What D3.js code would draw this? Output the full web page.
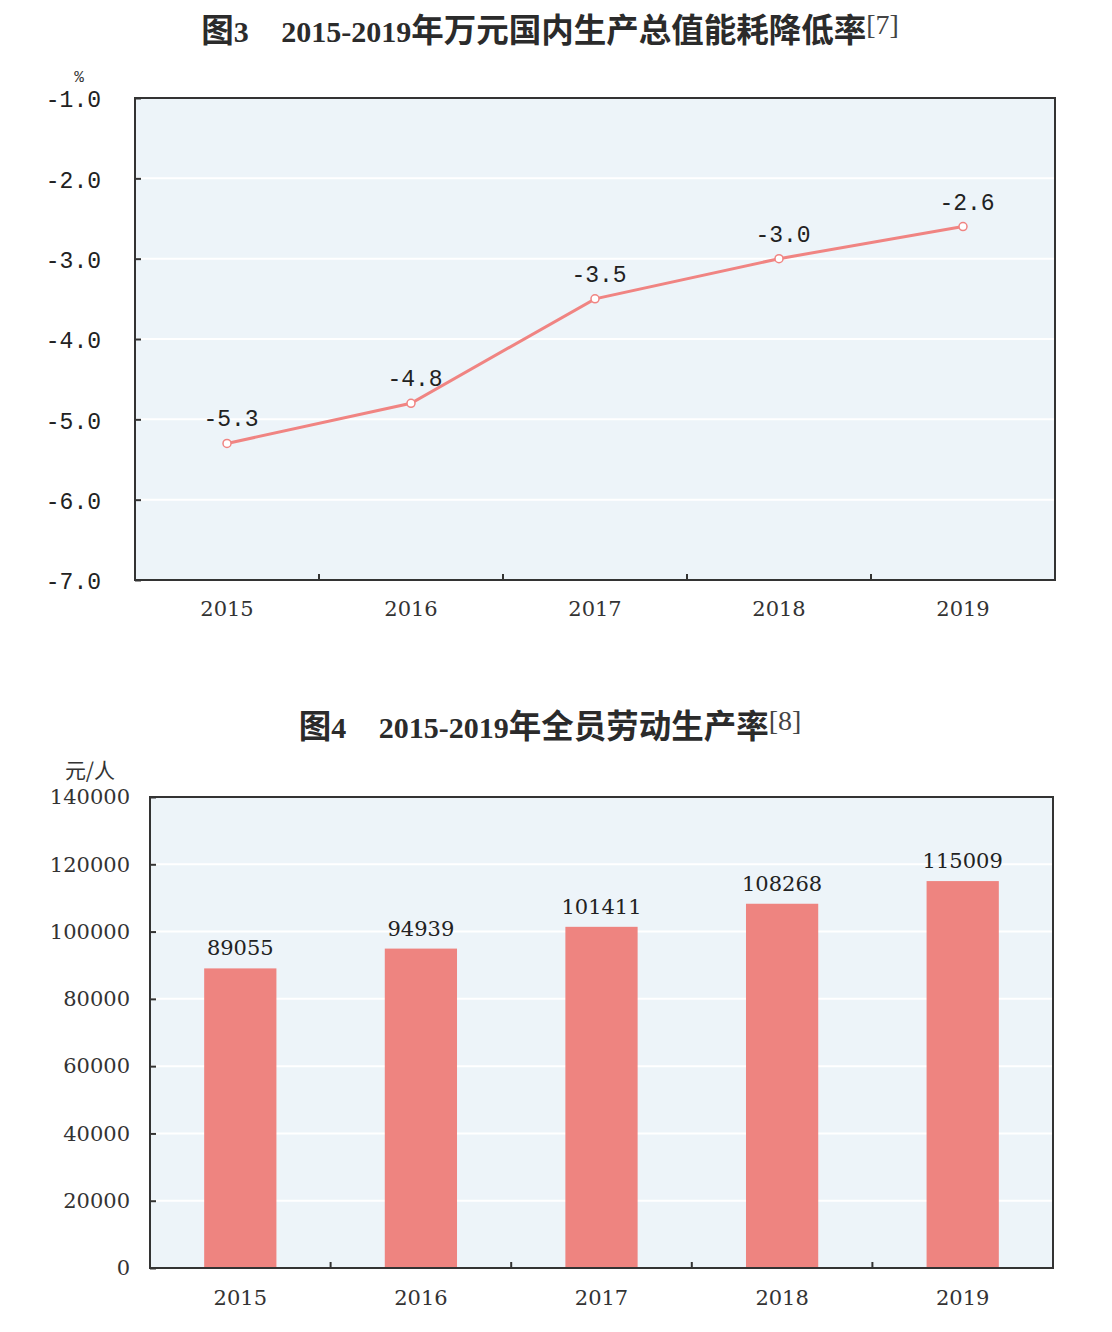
<!DOCTYPE html>
<html><head><meta charset="utf-8">
<script src="https://cdn.jsdelivr.net/npm/d3@7"></script>
<style>
html,body{margin:0;padding:0;background:#fff;}
svg{display:block;}
</style></head>
<body>
<svg id="c" width="1112" height="1332"></svg>
<script>
const years = ["2015","2016","2017","2018","2019"];
const energyDrop = [-5.3, -4.8, -3.5, -3.0, -2.6];
const energyTicks = [-7, -6, -5, -4, -3, -2, -1];
const productivity = [89055, 94939, 101411, 108268, 115009];
const productivityTicks = [0, 20000, 40000, 60000, 80000, 100000, 120000, 140000];
const title1 = ["图3", "2015-2019", "年万元国内生产总值能耗降低率", "[7]"];
const title2 = ["图4", "2015-2019", "年全员劳动生产率", "[8]"];
const unit1 = "%";
const unit2 = "元/人";

const loc = d3.formatLocale({decimal:".", thousands:",", grouping:[3], currency:["",""], minus:"-"});
const f1 = loc.format(".1f");

const svg = d3.select("#c");
const BG = "#EDF4F9", FRAME = "#333", TXT = "#333";
const LINE = "#F08482", BAR = "#EE8480";
const CJK = "'Noto Sans CJK SC', sans-serif";
const SERIF = "'Liberation Serif', 'Times New Roman', serif";
const MONO = "'Liberation Mono', monospace";
const DSERIF = "'DejaVu Serif', serif";

function title(y, parts){
  const t = svg.append("text").attr("x", 550).attr("y", y).attr("text-anchor","middle")
    .attr("fill","#2b2b2b").attr("font-size",30);
  t.append("tspan").attr("font-family",CJK).attr("font-weight",700).attr("font-size",32.5).text(parts[0].slice(0,1));
  t.append("tspan").attr("font-family",SERIF).attr("font-weight",700).text(parts[0].slice(1));
  t.append("tspan").attr("font-family",CJK).attr("font-size",32.5).text("\u3000");
  t.append("tspan").attr("font-family",SERIF).attr("font-weight",700).text(parts[1]);
  t.append("tspan").attr("font-family",CJK).attr("font-weight",700).attr("font-size",32.5).text(parts[2]);
  t.append("tspan").attr("font-family",SERIF).attr("font-weight",400).attr("font-size",28)
    .attr("dy",-8).attr("fill","#444").text(parts[3]);
}

// ---------- Chart 1 ----------
{
  const L = 135, R = 1055, T = 98, B = 580;
  title(42, title1);
  const x = d3.scaleBand().domain(years).range([L, R]).padding(0);
  const y = d3.scaleLinear().domain([-7, -1]).range([B, T]);
  const g = svg.append("g");
  g.append("rect").attr("x",L).attr("y",T).attr("width",R-L).attr("height",B-T).attr("fill",BG);
  g.selectAll("line.grid").data(energyTicks.slice(1,-1)).join("line")
    .attr("x1",L).attr("x2",R).attr("y1",d=>y(d)).attr("y2",d=>y(d))
    .attr("stroke","#fff").attr("stroke-width",2);
  const ya = g.append("g").attr("transform",`translate(${L},0)`)
    .call(d3.axisLeft(y).tickValues(energyTicks).tickFormat(f1).tickSize(-6).tickPadding(34));
  ya.select(".domain").remove();
  ya.selectAll(".tick line").attr("stroke",FRAME).attr("stroke-width",2);
  ya.selectAll(".tick text").attr("font-family",MONO).attr("font-size",23).attr("fill","#222")
    .attr("dy","0.38em");
  const xa = g.append("g").attr("transform",`translate(0,${B})`)
    .call(d3.axisBottom(x).tickSize(0).tickPadding(21));
  xa.select(".domain").remove();
  xa.selectAll(".tick text").attr("font-family",DSERIF).attr("font-size",21).attr("fill",TXT);
  g.selectAll("line.xt").data(years.slice(0,-1)).join("line")
    .attr("x1",d=>x(d)+x.step()).attr("x2",d=>x(d)+x.step()).attr("y1",B).attr("y2",B-6)
    .attr("stroke",FRAME).attr("stroke-width",2);
  g.append("rect").attr("x",L).attr("y",T).attr("width",R-L).attr("height",B-T)
    .attr("fill","none").attr("stroke",FRAME).attr("stroke-width",2);
  svg.append("text").attr("x",79).attr("y",82).attr("text-anchor","middle")
    .attr("font-family",MONO).attr("font-size",16).attr("fill",TXT).text(unit1);
  const cx = d => x(d) + x.bandwidth()/2;
  const line = d3.line().x((d,i)=>cx(years[i])).y(d=>y(d));
  g.append("path").datum(energyDrop).attr("d",line).attr("fill","none")
    .attr("stroke",LINE).attr("stroke-width",3);
  g.selectAll("circle").data(energyDrop).join("circle")
    .attr("cx",(d,i)=>cx(years[i])).attr("cy",d=>y(d)).attr("r",4)
    .attr("fill","#fff").attr("stroke",LINE).attr("stroke-width",1.5);
  g.selectAll("text.lbl").data(energyDrop).join("text").attr("class","lbl")
    .attr("x",(d,i)=>cx(years[i])+4).attr("y",d=>y(d)-17).attr("text-anchor","middle")
    .attr("font-family",MONO).attr("font-size",23).attr("fill","#222")
    .text(d=>f1(d));
}

// ---------- Chart 2 ----------
{
  const L = 150, R = 1053, T = 797, B = 1268;
  title(738, title2);
  const x = d3.scaleBand().domain(years).range([L, R]).padding(0);
  const y = d3.scaleLinear().domain([0, 140000]).range([B, T]);
  const g = svg.append("g");
  g.append("rect").attr("x",L).attr("y",T).attr("width",R-L).attr("height",B-T).attr("fill",BG);
  g.selectAll("line.grid").data(productivityTicks.slice(1,-1)).join("line")
    .attr("x1",L).attr("x2",R).attr("y1",d=>y(d)).attr("y2",d=>y(d))
    .attr("stroke","#fff").attr("stroke-width",2);
  const ya = g.append("g").attr("transform",`translate(${L},0)`)
    .call(d3.axisLeft(y).tickValues(productivityTicks).tickFormat(d3.format("d")).tickSize(-6).tickPadding(20));
  ya.select(".domain").remove();
  ya.selectAll(".tick line").attr("stroke",FRAME).attr("stroke-width",2);
  ya.selectAll(".tick text").attr("font-family",DSERIF).attr("font-size",21).attr("fill",TXT);
  const xa = g.append("g").attr("transform",`translate(0,${B})`)
    .call(d3.axisBottom(x).tickSize(0).tickPadding(22));
  xa.select(".domain").remove();
  xa.selectAll(".tick text").attr("font-family",DSERIF).attr("font-size",21).attr("fill",TXT);
  const bw = x.step()*0.4;
  g.selectAll("rect.bar").data(productivity).join("rect").attr("class","bar")
    .attr("x",(d,i)=>x(years[i])+x.step()/2-bw/2).attr("width",bw)
    .attr("y",d=>y(d)).attr("height",d=>B-y(d)).attr("fill",BAR);
  g.selectAll("text.lbl").data(productivity).join("text").attr("class","lbl")
    .attr("x",(d,i)=>x(years[i])+x.step()/2).attr("y",d=>y(d)-13).attr("text-anchor","middle")
    .attr("font-family",DSERIF).attr("font-size",21).attr("fill","#222").text(d=>d);
  g.selectAll("line.xt").data(years.slice(0,-1)).join("line")
    .attr("x1",d=>x(d)+x.step()).attr("x2",d=>x(d)+x.step()).attr("y1",B).attr("y2",B-6)
    .attr("stroke",FRAME).attr("stroke-width",2);
  g.append("rect").attr("x",L).attr("y",T).attr("width",R-L).attr("height",B-T)
    .attr("fill","none").attr("stroke",FRAME).attr("stroke-width",2);
  svg.append("text").attr("x",90).attr("y",778).attr("text-anchor","middle")
    .attr("font-family",CJK).attr("font-size",21).attr("fill",TXT).text(unit2);
}
</script>
</body></html>
